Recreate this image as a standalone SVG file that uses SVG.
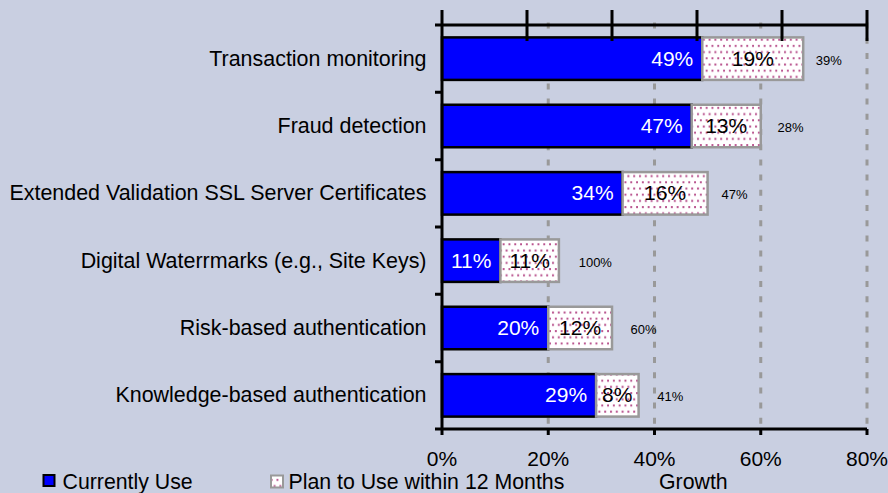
<svg xmlns="http://www.w3.org/2000/svg" width="888" height="493" viewBox="0 0 888 493">
  <style>
    text { font-family: "Liberation Sans", Arial, sans-serif; }
    .cat { font-size: 21.45px; fill: #000; text-anchor: end; }
    .cur { fill: #0000ff; stroke: #000; stroke-width: 2.5; }
    .plan { fill: url(#dots); stroke: #999; stroke-width: 2.5; }
    .vcur { font-size: 21px; fill: #fff; text-anchor: end; }
    .vplan { font-size: 21px; fill: #000; text-anchor: middle; }
    .grow { font-size: 13px; fill: #000; text-anchor: middle; }
    .grid { stroke: #999; stroke-width: 3; stroke-dasharray: 6 9.2; fill: none; }
    .axis { stroke: #000; stroke-width: 3; fill: none; }
    .tick { font-size: 21px; fill: #000; text-anchor: middle; }
    .leg { font-size: 21.3px; fill: #000; }
  </style>
  <defs>
    <pattern id="dots" width="5.8" height="12.4" patternUnits="userSpaceOnUse">
      <rect width="5.8" height="12.4" fill="#fff"/>
      <rect x="1" y="1.5" width="2" height="2" fill="#b8508c"/>
      <rect x="3.9" y="7.7" width="2" height="2" fill="#b8508c"/>
    </pattern>
  </defs>

  <rect width="888" height="493" fill="#c9cfe1"/>

  <!-- dashed value gridlines -->
  <g id="gridlines">
    <line class="grid" x1="548.25" y1="22.6" x2="548.25" y2="429"/>
    <line class="grid" x1="654.5" y1="22.6" x2="654.5" y2="429"/>
    <line class="grid" x1="760.75" y1="22.6" x2="760.75" y2="429"/>
    <line class="grid" x1="867" y1="22.6" x2="867" y2="429"/>
  </g>

  <!-- bars: 5.3125 px per percent from x=442 -->
  <g id="row-transaction-monitoring">
    <text class="cat" x="426.5" y="65.7">Transaction monitoring</text>
    <rect class="cur" x="442" y="37.4" width="260.3" height="42.5"/>
    <rect class="plan" x="702.3" y="37.4" width="100.9" height="42.5"/>
    <text class="vcur" x="693.3" y="65.7">49%</text>
    <text class="vplan" x="752.8" y="65.7">19%</text>
    <text class="grow" x="828.7" y="64.7">39%</text>
  </g>
  <g id="row-fraud-detection">
    <text class="cat" x="426.5" y="133">Fraud detection</text>
    <rect class="cur" x="442" y="104.75" width="249.7" height="42.5"/>
    <rect class="plan" x="691.7" y="104.75" width="69.05" height="42.5"/>
    <text class="vcur" x="682.7" y="133">47%</text>
    <text class="vplan" x="726.2" y="133">13%</text>
    <text class="grow" x="790.5" y="132">28%</text>
  </g>
  <g id="row-ev-ssl">
    <text class="cat" x="426.5" y="200.3">Extended Validation SSL Server Certificates</text>
    <rect class="cur" x="442" y="172.1" width="180.6" height="42.5"/>
    <rect class="plan" x="622.6" y="172.1" width="85" height="42.5"/>
    <text class="vcur" x="613.6" y="200.3">34%</text>
    <text class="vplan" x="665.1" y="200.3">16%</text>
    <text class="grow" x="734.5" y="199.3">47%</text>
  </g>
  <g id="row-digital-watermarks">
    <text class="cat" x="426.5" y="267.7">Digital Waterrmarks (e.g., Site Keys)</text>
    <rect class="cur" x="442" y="239.4" width="58.4" height="42.5"/>
    <rect class="plan" x="500.4" y="239.4" width="58.5" height="42.5"/>
    <text class="vcur" x="491.4" y="267.7">11%</text>
    <text class="vplan" x="529.7" y="267.7">11%</text>
    <text class="grow" x="595.3" y="266.7">100%</text>
  </g>
  <g id="row-risk-based">
    <text class="cat" x="426.5" y="335">Risk-based authentication</text>
    <rect class="cur" x="442" y="306.75" width="106.25" height="42.5"/>
    <rect class="plan" x="548.25" y="306.75" width="63.75" height="42.5"/>
    <text class="vcur" x="539.25" y="335">20%</text>
    <text class="vplan" x="580.1" y="335">12%</text>
    <text class="grow" x="643.5" y="334">60%</text>
  </g>
  <g id="row-knowledge-based">
    <text class="cat" x="426.5" y="402.3">Knowledge-based authentication</text>
    <rect class="cur" x="442" y="374.1" width="154.1" height="42.5"/>
    <rect class="plan" x="596.1" y="374.1" width="42.5" height="42.5"/>
    <text class="vcur" x="587.1" y="402.3">29%</text>
    <text class="vplan" x="617.3" y="402.3">8%</text>
    <text class="grow" x="670.3" y="401.3">41%</text>
  </g>

  <!-- axes -->
  <g id="axes">
    <path class="axis" d="M435 25H867 M435 429H867 M442 10V435"/>
    <path class="axis" d="M527 10V41 M612 10V41 M697 10V41 M782 10V41 M867 10V41"/>
    <path class="axis" d="M548.25 429V435 M654.5 429V435 M760.75 429V435 M867 429V435"/>
    <path class="axis" d="M435 92.3H442 M435 159.7H442 M435 227H442 M435 294.3H442 M435 361.7H442"/>
    <text class="tick" x="442" y="466">0%</text>
    <text class="tick" x="548.25" y="466">20%</text>
    <text class="tick" x="654.5" y="466">40%</text>
    <text class="tick" x="760.75" y="466">60%</text>
    <text class="tick" x="867" y="466">80%</text>
  </g>

  <!-- legend -->
  <g id="legend">
    <rect x="43.5" y="475" width="11" height="11" fill="#0000ff" stroke="#000" stroke-width="2"/>
    <text class="leg" x="62.5" y="488.5">Currently Use</text>
    <rect x="271" y="475.5" width="12" height="12" fill="url(#dots)" stroke="#999" stroke-width="2"/>
    <text class="leg" x="288.5" y="488.5">Plan to Use within 12 Months</text>
    <text class="leg" x="659" y="488.5">Growth</text>
  </g>
</svg>
